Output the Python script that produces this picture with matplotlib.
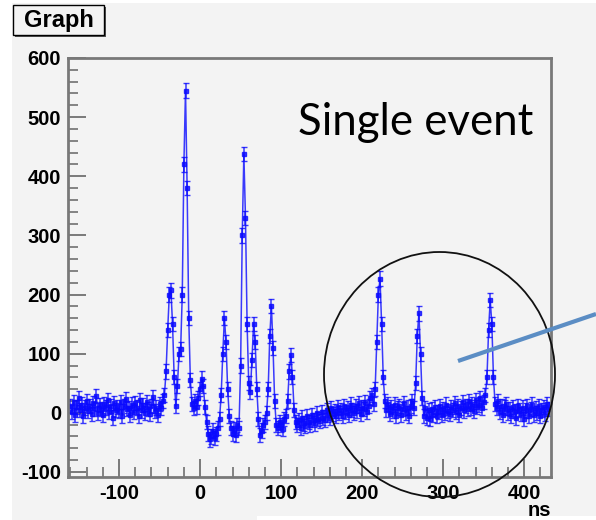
import numpy as np
import matplotlib
matplotlib.use("Agg")
import matplotlib.pyplot as plt
from matplotlib.patches import Rectangle, Ellipse
from matplotlib.lines import Line2D
from matplotlib.ticker import MultipleLocator

plt.rcParams["axes.unicode_minus"] = False

# ---------------- data ----------------
time_ns = np.arange(-160, 432, 2)          # sample times, ns
amplitude = [
    12, 2, 18, -3, 10, 25, 5, 14, -6, 9,          # -160 .. -142
    20, 3, 11, -2, 16, 7, 28, 0, 13, 6,           # -140 .. -122
    -4, 15, 9, 22, 1, 12, -8, 17, 5, 10,          # -120 .. -102
    3, 19, -5, 11, 24, 6, 8, -3, 14, 2,           # -100 .. -82
    16, 9, -6, 21, 4, 13, 0, 18, 7, -2,           # -80 .. -62
    11, 26, 3, 9, -4, 15, 8, 20, 30, 70,          # -60 .. -42
    140, 200, 207, 150, 60, 12, 45, 100, 108, 200,  # -40 .. -22
    420, 545, 380, 160, 55, 15, 8, 20, 10, 25,    # -20 .. -2
    40, 58, 45, 10, -15, -35, -45, -40, -30, -42, # 0 .. 18
    -36, -25, -10, 30, 100, 160, 120, 40, -5, -25,  # 20 .. 38
    -35, -28, -38, -20, -25, 80, 300, 437, 330, 150,  # 40 .. 58
    50, 35, 90, 150, 120, 40, -10, -38, -30, -20,   # 60 .. 78
    -15, 0, 40, 130, 180, 110, 20, -20, -25, -15,   # 80 .. 98
    -20, -28, -10, -5, 20, 70, 98, 60, 5, -15,      # 100 .. 118
    -20, -12, -25, -8, -18, -22, -5, -15, -20, -3,  # 120 .. 138
    -12, -18, 0, -10, -14, 2, -8, -12, 5, -4,       # 140 .. 158
    -9, 8, -2, 3, -6, 10, 0, 4, -5, 12,             # 160 .. 178
    2, 8, -3, 14, 5, 0, 11, 3, 16, -2,              # 180 .. 198
    9, 6, 18, 2, 12, 25, 30, 15, 40, 120,           # 200 .. 218
    200, 227, 150, 60, 20, 5, 15, -2, 10, 3,        # 220 .. 238
    14, -6, 8, 12, -3, 6, 16, 0, 9, -5,             # 240 .. 258
    12, 20, 8, 50, 130, 168, 100, 25, -5, 8,        # 260 .. 278
    -8, 4, -10, 6, -3, 10, -6, 2, 12, -4,           # 280 .. 298
    7, 0, 14, 3, -2, 10, 5, 16, 2, 11,              # 300 .. 318
    -3, 8, 18, 4, 12, 6, 20, 9, 15, 3,              # 320 .. 338
    22, 10, 14, 25, 8, 18, 30, 60, 140, 191,        # 340 .. 358
    150, 60, 15, 8, 20, 2, 12, -4, 9, 15,           # 360 .. 378
    0, 7, -6, 10, 3, -8, 12, 5, -2, 9,              # 380 .. 398
    -10, 4, 11, -5, 6, 14, -3, 8, 0, 12,            # 400 .. 418
    -6, 5, 10, -2, 15, 6,                           # 420 .. 430
]
y_error = 12

x_ticks = [-100, 0, 100, 200, 300, 400]
y_ticks = [-100, 0, 100, 200, 300, 400, 500, 600]
x_label = "ns"
title_text = "Graph"
note_text = "Single event"

# ---------------- figure ----------------
W, H = 596, 520
fig = plt.figure(figsize=(W / 100, H / 100), dpi=100, facecolor="white")
PANEL = "#f3f3f3"


def fx(px):
    return px / W


def fy(py):
    return 1 - py / H


# grey slide panel
fig.add_artist(Rectangle((fx(12), fy(516)), (596 - 12) / W, (516 - 3) / H,
                         transform=fig.transFigure, facecolor=PANEL,
                         edgecolor="none", zorder=-10))
fig.add_artist(Rectangle((fx(12), fy(520)), (257 - 12) / W, 4 / H,
                         transform=fig.transFigure, facecolor=PANEL,
                         edgecolor="none", zorder=-10))

ax = fig.add_axes([fx(68), fy(477), (551 - 68) / W, (477 - 58) / H])
ax.set_facecolor(PANEL)

ax.errorbar(time_ns, amplitude, yerr=y_error, fmt="-", color="#0a0aff",
            lw=1.1, elinewidth=1.1, capsize=2, capthick=1.0,
            marker="s", ms=2.2, alpha=0.8)

ax.set_xlim(-163, 433)
ax.set_ylim(-108.5, 600)
ax.set_xticks(x_ticks)
ax.set_yticks(y_ticks)
ax.xaxis.set_minor_locator(MultipleLocator(20))
ax.yaxis.set_minor_locator(MultipleLocator(20))
ax.tick_params(which="major", direction="in", length=13, width=1.3,
               color="#707070", labelsize=14.5, pad=5)
ax.tick_params(which="minor", direction="in", length=7, width=1.2,
               color="#707070")
ax.tick_params(top=False, right=False, which="both")
for lbl in ax.get_xticklabels() + ax.get_yticklabels():
    lbl.set_fontweight("bold")
    lbl.set_family("Liberation Sans")
for s in ax.spines.values():
    s.set_color("#787878")
    s.set_linewidth(2)

fig.text(fx(551), fy(511), x_label, ha="right", va="center",
         fontsize=14.5, fontweight="bold", family="Liberation Sans")

# title box
fig.add_artist(Rectangle((fx(15), fy(37)), (104 - 13) / W, 30 / H,
                         transform=fig.transFigure, facecolor="#555555",
                         edgecolor="none", zorder=3))
fig.add_artist(Rectangle((fx(13), fy(35)), (104 - 13) / W, 30 / H,
                         transform=fig.transFigure, facecolor=PANEL,
                         edgecolor="black", lw=1, zorder=4))
fig.text(fx(58.5), fy(20.5), title_text, ha="center", va="center",
         fontsize=17, fontweight="bold", family="Liberation Sans", zorder=5)

# annotation text
fig.text(fx(298), fy(135), note_text, ha="left", va="baseline",
         fontsize=31.5, family="Lato", color="black")

# circle + pointer line
fig.add_artist(Ellipse((fx(439.5), fy(374.5)), 231 / W, 245 / H,
                       transform=fig.transFigure, fill=False,
                       edgecolor="#111111", lw=1.3, zorder=6))
fig.add_artist(Line2D([fx(458), fx(596)], [fy(361), fy(314)],
                      transform=fig.transFigure, color="#5b8dc4", lw=3.0,
                      solid_capstyle="butt", zorder=7))

fig.savefig("out.png", dpi=100, facecolor="white")
